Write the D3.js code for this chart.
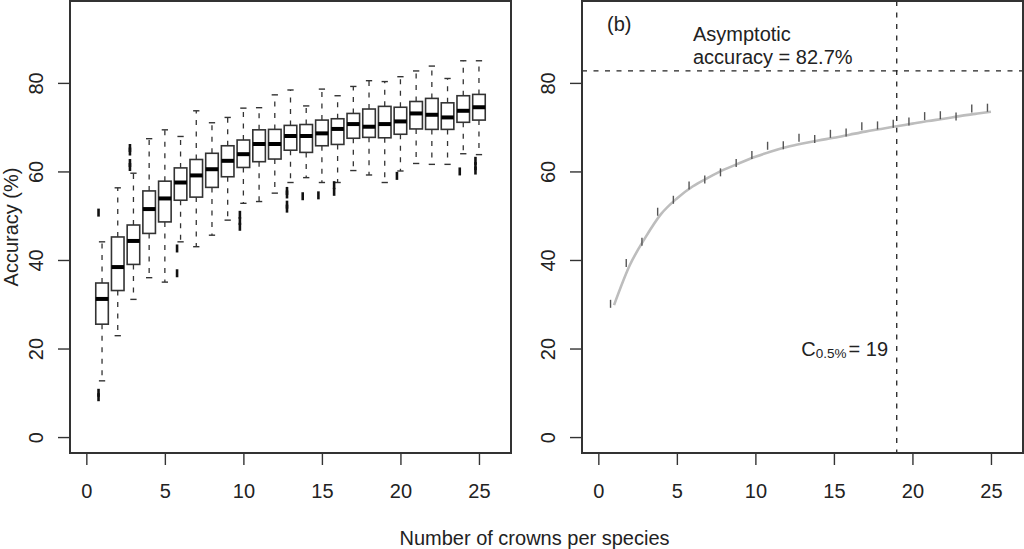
<!DOCTYPE html>
<html>
<head>
<meta charset="utf-8">
<script src="https://cdn.jsdelivr.net/npm/d3@7"></script>
<style>
  html, body { margin: 0; padding: 0; background: #fff; }
  svg { display: block; }
  text { font-family: "Liberation Sans", Arial, Helvetica, sans-serif; fill: #222; }
</style>
</head>
<body>
<script>
// ---------------- data ----------------
const crowns       = [1,2,3,4,5,6,7,8,9,10,11,12,13,14,15,16,17,18,19,20,21,22,23,24,25];
const whiskerLow   = [12.7,22.9,31.1,36.0,35.0,44.1,43.0,45.6,49.0,52.8,53.2,55.1,57.5,58.6,57.5,57.5,60.2,59.2,57.5,60.1,61.8,61.6,61.6,64.0,63.8];
const quartile1    = [25.5,33.1,39.0,46.0,48.6,53.5,54.2,56.4,58.8,60.9,62.2,62.8,64.8,64.3,65.8,66.1,67.5,67.7,67.6,68.4,69.6,69.5,69.5,71.1,71.6];
const medians      = [31.2,38.4,44.3,51.5,53.9,57.5,59.1,60.5,62.4,63.9,66.2,66.2,68.0,68.0,68.6,69.6,70.7,70.1,70.7,71.3,73.1,72.8,72.2,73.7,74.5];
const quartile3    = [34.8,45.2,47.9,55.6,57.8,60.8,62.7,64.1,65.8,67.1,69.4,69.5,70.4,70.6,71.6,71.9,73.1,74.1,74.7,74.5,75.8,76.5,75.5,77.1,77.4];
const whiskerHigh  = [44.1,56.3,59.6,67.4,69.4,67.9,73.7,71.0,72.2,74.3,74.4,77.3,78.4,74.8,78.6,77.1,79.2,80.5,80.3,81.4,82.7,83.8,81.0,85.0,85.0];
const outliers     = [[9.0,10.0,50.7],[],[61.0,61.9,64.5,65.3],[],[],[37.0,42.6],[],[],[],[47.5,48.8,50.2],[],[],[51.6,52.5,54.8,55.6],[54.4],[54.6],[55.4,56.9],[],[],[],[59.0],[],[],[],[60.0],[60.2,61.2,62.4]];

const meanAccuracy   = [30.1,39.3,44.1,50.9,53.6,56.8,58.2,59.8,61.9,63.7,65.8,65.9,67.6,67.3,68.5,68.8,70.2,70.4,70.8,71.3,72.5,72.7,72.4,74.2,74.4];
const fittedAccuracy = [29.8,38.8,45.1,50.4,53.9,56.6,58.6,60.4,61.9,63.3,64.5,65.5,66.3,67.0,67.6,68.3,69.0,69.6,70.2,70.8,71.4,71.9,72.5,73.0,73.5];
const asymptote = 82.7;
const c05 = 19;

const xTicks = [0,5,10,15,20,25];
const yTicks = [0,20,40,60,80];

// ---------------- layout ----------------
const W = 1024, H = 549;
const svg = d3.select("body").append("svg").attr("width", W).attr("height", H);

const plotTop = 1, plotBottom = 453;
const panels = [
  {x0: 70,  x1: 511},
  {x0: 582, x1: 1023}
];
const xDomain = [-1.04, 27.04];
const y = d3.scaleLinear().domain([-3.6, 98.5]).range([plotBottom, plotTop]);
const FS = 20;
const ink = "#333";

function drawAxes(p) {
  const x = d3.scaleLinear().domain(xDomain).range([p.x0, p.x1]);
  const ga = svg.append("g").attr("transform", `translate(${p.x0},0)`)
    .call(d3.axisLeft(y).tickValues(yTicks).tickSize(12).tickFormat(d3.format("d")));
  ga.select(".domain").remove();
  ga.selectAll(".tick line").attr("stroke", ink).attr("stroke-width", 1.4);
  ga.selectAll(".tick text")
    .attr("x", 0).attr("dy", 0).attr("y", 0)
    .attr("text-anchor", "middle")
    .attr("transform", "translate(-27.5,0) rotate(-90)")
    .style("font-size", FS + "px").attr("fill", "#222");
  const gb = svg.append("g").attr("transform", `translate(0,${plotBottom})`)
    .call(d3.axisBottom(x).tickValues(xTicks).tickSize(12).tickFormat(d3.format("d")));
  gb.select(".domain").remove();
  gb.selectAll(".tick line").attr("stroke", ink).attr("stroke-width", 1.4);
  gb.selectAll(".tick text").attr("y", 45).attr("dy", 0)
    .style("font-size", FS + "px").attr("fill", "#222");
  return x;
}

// ---------------- panel (a): boxplots ----------------
const xa = drawAxes(panels[0]);
const boxes = crowns.map((c, i) => ({
  c, lo: whiskerLow[i], q1: quartile1[i], med: medians[i], q3: quartile3[i], hi: whiskerHigh[i], out: outliers[i]
}));
const bw = xa(0.4) - xa(0);
const cw = xa(0.2) - xa(0);
const gA = svg.append("g");
const bg = gA.selectAll("g.box").data(boxes).join("g").attr("class", "box");
bg.append("line").attr("x1", d => xa(d.c)).attr("x2", d => xa(d.c))
  .attr("y1", d => y(d.q3)).attr("y2", d => y(d.hi))
  .attr("stroke", ink).attr("stroke-width", 1.3).attr("stroke-dasharray", "5,6.5");
bg.append("line").attr("x1", d => xa(d.c)).attr("x2", d => xa(d.c))
  .attr("y1", d => y(d.q1)).attr("y2", d => y(d.lo))
  .attr("stroke", ink).attr("stroke-width", 1.3).attr("stroke-dasharray", "5,6.5");
bg.append("line").attr("x1", d => xa(d.c) - cw).attr("x2", d => xa(d.c) + cw)
  .attr("y1", d => y(d.hi)).attr("y2", d => y(d.hi)).attr("stroke", ink).attr("stroke-width", 1.4);
bg.append("line").attr("x1", d => xa(d.c) - cw).attr("x2", d => xa(d.c) + cw)
  .attr("y1", d => y(d.lo)).attr("y2", d => y(d.lo)).attr("stroke", ink).attr("stroke-width", 1.4);
bg.append("rect").attr("x", d => xa(d.c) - bw).attr("width", 2 * bw)
  .attr("y", d => y(d.q3)).attr("height", d => y(d.q1) - y(d.q3))
  .attr("fill", "#fff").attr("stroke", ink).attr("stroke-width", 1.6);
bg.append("line").attr("x1", d => xa(d.c) - bw).attr("x2", d => xa(d.c) + bw)
  .attr("y1", d => y(d.med)).attr("y2", d => y(d.med))
  .attr("stroke", "#000").attr("stroke-width", 4);
bg.selectAll("line.out").data(d => d.out.map(v => ({c: d.c, v}))).join("line").attr("class", "out")
  .attr("x1", d => xa(d.c) - 3.5).attr("x2", d => xa(d.c) - 3.5)
  .attr("y1", d => y(d.v) - 4).attr("y2", d => y(d.v) + 4)
  .attr("stroke", "#111").attr("stroke-width", 2.6);

// ---------------- panel (b): fitted curve ----------------
const xb = drawAxes(panels[1]);
const gB = svg.append("g");
gB.append("line").attr("x1", panels[1].x0).attr("x2", panels[1].x1)
  .attr("y1", y(asymptote)).attr("y2", y(asymptote))
  .attr("stroke", "#222").attr("stroke-width", 1.3).attr("stroke-dasharray", "5,6.5");
gB.append("line").attr("x1", xb(c05)).attr("x2", xb(c05))
  .attr("y1", plotTop).attr("y2", plotBottom)
  .attr("stroke", "#222").attr("stroke-width", 1.3).attr("stroke-dasharray", "5,6.5");
const line = d3.line().x((d, i) => xb(crowns[i])).y(d => y(d)).curve(d3.curveMonotoneX);
gB.append("path").datum(fittedAccuracy).attr("d", line)
  .attr("fill", "none").attr("stroke", "#bdbdbd").attr("stroke-width", 2.6);
gB.selectAll("line.mean").data(meanAccuracy).join("line").attr("class", "mean")
  .attr("x1", (d, i) => xb(crowns[i]) - 3.5).attr("x2", (d, i) => xb(crowns[i]) - 3.5)
  .attr("y1", d => y(d) - 4).attr("y2", d => y(d) + 4)
  .attr("stroke", "#555").attr("stroke-width", 1.4);

svg.append("text").attr("x", 607).attr("y", 31).style("font-size", FS + "px").text("(b)");
svg.append("text").attr("x", 693).attr("y", 40.5).style("font-size", FS + "px").text("Asymptotic");
svg.append("text").attr("x", 693).attr("y", 64).style("font-size", FS + "px").text("accuracy = 82.7%");
const ct = svg.append("text").attr("x", 888).attr("y", 356).attr("text-anchor", "end").style("font-size", FS + "px");
ct.append("tspan").text("C");
ct.append("tspan").attr("dy", 2).style("font-size", "13.5px").text("0.5%");
ct.append("tspan").attr("dy", -2).attr("dx", 2).text("= 19");

panels.forEach(p => {
  svg.append("rect").attr("x", p.x0).attr("y", plotTop).attr("width", p.x1 - p.x0).attr("height", plotBottom - plotTop)
    .attr("fill", "none").attr("stroke", ink).attr("stroke-width", 2);
});

svg.append("text").attr("transform", "translate(17.5,227) rotate(-90)").attr("text-anchor", "middle")
  .style("font-size", FS + "px").text("Accuracy (%)");
svg.append("text").attr("x", 534.5).attr("y", 545).attr("text-anchor", "middle")
  .style("font-size", FS + "px").text("Number of crowns per species");
</script>
</body>
</html>
